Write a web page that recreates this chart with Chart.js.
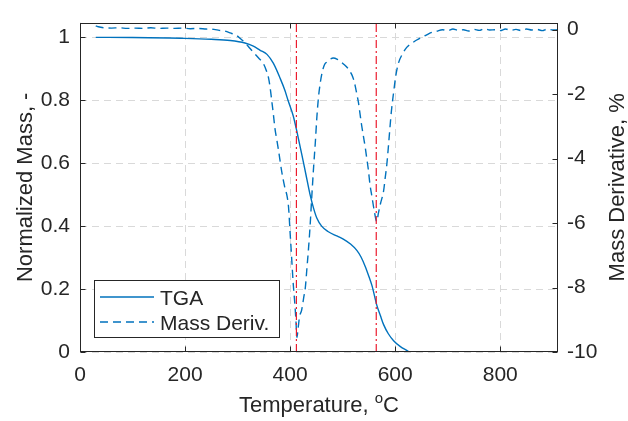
<!DOCTYPE html>
<html>
<head>
<meta charset="utf-8">
<script src="https://cdn.jsdelivr.net/npm/chart.js@4"></script>
<style>
html,body{margin:0;padding:0;background:#fff;}
#wrap{width:628px;height:421px;position:relative;}
</style>
</head>
<body>
<div id="wrap"><canvas id="c" width="628" height="421"></canvas></div>
<script>
// ---------------- DATA ----------------
const tgaTemp = [
  30, 100, 200, 250, 286, 314, 330, 343, 356, 368,
  381, 390, 396, 406, 413, 422, 430, 438, 445, 451,
  460, 472, 490, 502, 515, 527, 535, 543, 550, 556,
  565, 572, 578, 587, 597, 610, 622, 627
];
const tgaMass = [
  1.000, 0.9995, 0.997, 0.994, 0.990, 0.982, 0.972, 0.959, 0.946, 0.918,
  0.870, 0.832, 0.800, 0.750, 0.700, 0.630, 0.565, 0.500, 0.455, 0.425,
  0.400, 0.383, 0.368, 0.358, 0.343, 0.323, 0.302, 0.272, 0.240, 0.210,
  0.149, 0.115, 0.087, 0.058, 0.036, 0.017, 0.005, 0.000
];
const derivTemp = [
  30, 35, 45, 60, 75, 90, 105, 120, 135, 150,
  165, 180, 195, 210, 225, 240, 255, 265, 275, 286,
  298, 305, 314, 322, 330, 340, 349, 355, 359, 362,
  365, 368, 371, 375, 378, 384, 390, 394, 397, 400,
  403, 406, 409, 411, 413, 415, 418, 422, 426, 429,
  432, 435, 438, 441, 445, 448, 451, 454, 457, 460,
  465, 470, 476, 482, 490, 497, 502, 510, 517, 521,
  524, 527, 530, 533, 536, 540, 543, 546, 549, 552,
  556, 560, 565, 568, 572, 578, 581, 584, 587, 590,
  593, 597, 601, 606, 614, 622, 632, 641, 652, 660,
  667, 679, 690, 700, 710, 720, 730, 740, 750, 760,
  770, 780, 790, 800, 810, 820, 830, 840, 850, 860,
  870, 880, 890, 900, 908
];
const derivValue = [
  0.12, 0.09, 0.06, 0.05, 0.06, 0.04, 0.05, 0.04, 0.06, 0.04,
  0.05, 0.04, 0.05, 0.03, 0.04, 0.02, 0.01, -0.02, -0.04, -0.10,
  -0.18, -0.27, -0.40, -0.55, -0.70, -0.88, -1.05, -1.28, -1.50, -1.80,
  -2.20, -2.60, -3.05, -3.45, -3.75, -4.40, -4.90, -5.15, -5.50, -6.30,
  -7.10, -7.90, -8.50, -9.00, -9.55, -9.30, -8.90, -8.70, -8.30, -8.00,
  -7.40, -6.80, -6.10, -5.25, -4.20, -3.50, -2.70, -2.10, -1.70, -1.40,
  -1.10, -1.00, -0.92, -0.88, -0.92, -1.00, -1.07, -1.20, -1.38, -1.55,
  -1.75, -2.00, -2.25, -2.60, -2.95, -3.35, -3.65, -4.00, -4.35, -4.80,
  -5.20, -5.60, -5.95, -5.70, -5.40, -5.00, -4.60, -4.20, -3.65, -3.05,
  -2.50, -1.95, -1.45, -1.05, -0.75, -0.55, -0.42, -0.32, -0.22, -0.16,
  -0.10, -0.05, 0.00, -0.03, 0.02, -0.02, 0.00, -0.04, 0.01, -0.02,
  0.03, -0.01, 0.00, -0.03, 0.02, -0.02, 0.01, -0.03, 0.02, -0.01,
  0.01, -0.03, 0.02, -0.01, 0.00
];
const peakTemps = [412, 564];

const xTickValues = [0, 200, 400, 600, 800];
const massTickValues = [0, 0.2, 0.4, 0.6, 0.8, 1];
const derivTickValues = [-10, -8, -6, -4, -2, 0];

const xRange = [0, 910];
const massRange = [0, 1.047];
const derivRange = [-10, 0.22];

const xTitle = ['Temperature, ', 'o', 'C'];
const yTitle = 'Normalized Mass, -';
const y2Title = 'Mass Derivative, %';
// --------------------------------------

const FONT = '"Liberation Sans", Arial, Helvetica, sans-serif';
const TXT = '#262626';
const BLUE = '#0072BD';
const RED = 'rgb(236,28,46)';
Chart.defaults.font.family = FONT;
Chart.defaults.color = TXT;

const fmt = v => String(+Number(v).toFixed(2));

const datasets = [
  {
    label: 'TGA',
    data: tgaTemp.map((t, i) => ({x: t, y: tgaMass[i]})),
    yAxisID: 'y', borderColor: BLUE, borderWidth: 1.4, pointRadius: 0,
    cubicInterpolationMode: 'monotone', fill: false, order: 2, showInLegend: true
  },
  {
    label: 'Mass Deriv.',
    data: derivTemp.map((t, i) => ({x: t, y: derivValue[i]})),
    yAxisID: 'y2', borderColor: BLUE, borderWidth: 1.4, borderDash: [8, 5], pointRadius: 0,
    cubicInterpolationMode: 'monotone', fill: false, order: 3, showInLegend: true
  }
].concat(peakTemps.map(t => ({
  label: 'Peak ' + t,
  data: [{x: t, y: massRange[0]}, {x: t, y: massRange[1]}],
  yAxisID: 'y', borderColor: RED, borderWidth: 1.2, borderDash: [8, 3, 2, 3],
  pointRadius: 0, fill: false, order: 1, showInLegend: false
})));

const setTicks = arr => s => { s.ticks = arr.map(v => ({value: v})); };

const framePlugin = {
  id: 'frame',
  beforeDatasetsDraw(chart) {
    const {ctx, chartArea: a, scales} = chart;
    ctx.save();
    ctx.strokeStyle = '#d9d9d9';
    ctx.lineWidth = 1;
    ctx.setLineDash([7, 5]);
    xTickValues.forEach(v => {
      const px = Math.round(scales.x.getPixelForValue(v)) + 0.5;
      ctx.beginPath(); ctx.moveTo(px, a.bottom); ctx.lineTo(px, a.top); ctx.stroke();
    });
    massTickValues.forEach(v => {
      const py = Math.round(scales.y.getPixelForValue(v)) + 0.5;
      ctx.beginPath(); ctx.moveTo(a.left, py); ctx.lineTo(a.right, py); ctx.stroke();
    });
    ctx.restore();
  },
  afterDatasetsDraw(chart) {
    const {ctx, chartArea: a, scales} = chart;
    ctx.save();
    ctx.setLineDash([]);
    ctx.strokeStyle = TXT;
    ctx.lineWidth = 1;
    const L = Math.round(a.left) + 0.5, R = Math.round(a.right) - 0.5;
    const T = Math.round(a.top) + 0.5, B = Math.round(a.bottom) - 0.5;
    ctx.strokeRect(L, T, R - L, B - T);
    const tl = 5;
    ctx.beginPath();
    xTickValues.forEach(v => {
      const px = Math.round(scales.x.getPixelForValue(v)) + 0.5;
      ctx.moveTo(px, B); ctx.lineTo(px, B - tl);
      ctx.moveTo(px, T); ctx.lineTo(px, T + tl);
    });
    massTickValues.forEach(v => {
      const py = Math.round(scales.y.getPixelForValue(v)) + 0.5;
      ctx.moveTo(L, py); ctx.lineTo(L + tl, py);
    });
    derivTickValues.forEach(v => {
      const py = Math.round(scales.y2.getPixelForValue(v)) + 0.5;
      ctx.moveTo(R, py); ctx.lineTo(R - tl, py);
    });
    ctx.stroke();

    // legend (built from the datasets)
    const items = chart.data.datasets.filter(d => d.showInLegend);
    const bx = 94.5, by = 280.5, bw = 185, bh = 57;
    ctx.fillStyle = '#ffffff';
    ctx.fillRect(bx, by, bw, bh);
    ctx.strokeStyle = TXT;
    ctx.lineWidth = 1;
    ctx.strokeRect(bx, by, bw, bh);
    ctx.font = '21px ' + FONT;
    ctx.textBaseline = 'alphabetic';
    ctx.textAlign = 'left';
    items.forEach((d, i) => {
      const ly = 297 + i * 25;
      ctx.strokeStyle = d.borderColor;
      ctx.lineWidth = d.borderWidth;
      ctx.setLineDash(d.borderDash || []);
      ctx.beginPath(); ctx.moveTo(100, ly); ctx.lineTo(154, ly); ctx.stroke();
      ctx.setLineDash([]);
      ctx.fillStyle = TXT;
      ctx.fillText(d.label, 160, ly + 8);
    });
    ctx.restore();
  },
  afterDraw(chart) {
    const {ctx, chartArea: a} = chart;
    ctx.save();
    ctx.fillStyle = TXT;
    ctx.textBaseline = 'alphabetic';
    ctx.textAlign = 'left';
    const cy = (a.top + a.bottom) / 2;
    // y titles, rotated
    ctx.font = '22px ' + FONT;
    [[yTitle, 32], [y2Title, 624]].forEach(([txt, bx]) => {
      ctx.save();
      ctx.translate(bx, cy);
      ctx.rotate(-Math.PI / 2);
      const w = ctx.measureText(txt).width;
      ctx.fillText(txt, -w / 2, 0);
      ctx.restore();
    });
    // x title with superscript
    const big = '22px ' + FONT, small = '15px ' + FONT;
    ctx.font = big; const w1 = ctx.measureText(xTitle[0]).width; const w3 = ctx.measureText(xTitle[2]).width;
    ctx.font = small; const w2 = ctx.measureText(xTitle[1]).width;
    const cx = (a.left + a.right) / 2;
    let x0 = cx - (w1 + w2 + w3) / 2;
    const base = 412;
    ctx.font = big; ctx.fillText(xTitle[0], x0, base);
    ctx.font = small; ctx.fillText(xTitle[1], x0 + w1, base - 9);
    ctx.font = big; ctx.fillText(xTitle[2], x0 + w1 + w2, base);
    ctx.restore();
  }
};

new Chart(document.getElementById('c'), {
  type: 'line',
  data: {datasets},
  plugins: [framePlugin],
  options: {
    responsive: false,
    animation: false,
    devicePixelRatio: 1,
    parsing: true,
    layout: {padding: {top: 11, left: 0, right: 0, bottom: 0}},
    plugins: {legend: {display: false}, tooltip: {enabled: false}, title: {display: false}},
    scales: {
      x: {
        type: 'linear', position: 'bottom', min: xRange[0], max: xRange[1],
        afterBuildTicks: setTicks(xTickValues),
        afterFit: s => { s.height = 69; },
        grid: {display: false, drawTicks: false},
        border: {display: false},
        ticks: {padding: 11, color: TXT, font: {size: 21}, maxRotation: 0, autoSkip: false, callback: fmt}
      },
      y: {
        type: 'linear', position: 'left', min: massRange[0], max: massRange[1],
        afterBuildTicks: setTicks(massTickValues),
        afterFit: s => { s.width = 80; },
        grid: {display: false, drawTicks: false},
        border: {display: false},
        ticks: {padding: 10, color: TXT, font: {size: 21}, autoSkip: false, callback: fmt}
      },
      y2: {
        type: 'linear', position: 'right', min: derivRange[0], max: derivRange[1],
        afterBuildTicks: setTicks(derivTickValues),
        afterFit: s => { s.width = 70; },
        grid: {display: false, drawTicks: false},
        border: {display: false},
        ticks: {padding: 9, color: TXT, font: {size: 21}, autoSkip: false, callback: fmt}
      }
    }
  }
});
</script>
</body>
</html>
